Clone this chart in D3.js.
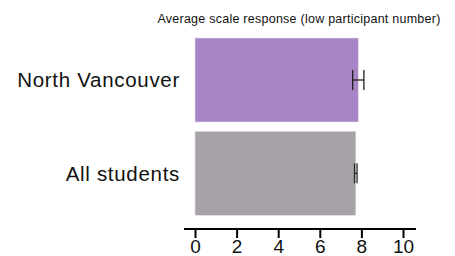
<!DOCTYPE html>
<html>
  <head>
    <meta charset="utf-8" />
    <title>Average scale response</title>
    <script src="https://d3js.org/d3.v7.min.js"></script>
    <style>
      body { margin: 0; background: white; }
      text { font-family: "Liberation Sans", Arial, sans-serif; fill: #111; }
    </style>
  </head>
  <body>
    <svg width="455" height="256" id="chart"></svg>

    <script>
      // chart values
      var categories = ["North Vancouver", "All students"];
      var means = [7.85, 7.73];
      var errors = [0.27, 0.06];
      var colors = ["#a784c6", "#a7a2a7"];
      var ticks = [0, 2, 4, 6, 8, 10];

      var svg = d3.select("#chart");

      // x scale: 0 sits at 195px, 10 at 403px
      var x = d3.scaleLinear().domain([0, 10]).range([195, 403]);
      var y = d3.scaleBand().domain(categories).range([38, 215.3]).paddingInner(0.1).paddingOuter(0);

      svg.append("text")
          .attr("x", 299)
          .attr("y", 23)
          .attr("text-anchor", "middle")
          .style("font-size", "12.5px")
          .style("letter-spacing", "0.25px")
          .text("Average scale response (low participant number)");

      // bars
      svg.selectAll("rect.bar")
          .data(categories)
          .enter().append("rect")
          .attr("class", "bar")
          .attr("x", x(0))
          .attr("y", function(d){ return y(d); })
          .attr("width", function(d, i){ return x(means[i]) - x(0); })
          .attr("height", y.bandwidth())
          .attr("fill", function(d, i){ return colors[i]; })
          .attr("stroke", "#e4dde8")
          .attr("stroke-width", 0.6);

      // error bars
      var eb = svg.selectAll("g.err")
          .data(categories)
          .enter().append("g")
          .attr("class", "err");

      eb.append("line")
          .attr("x1", function(d, i){ return x(means[i] - errors[i]); })
          .attr("x2", function(d, i){ return x(means[i] + errors[i]); })
          .attr("y1", function(d){ return y(d) + y.bandwidth() / 2; })
          .attr("y2", function(d){ return y(d) + y.bandwidth() / 2; })
          .attr("stroke", "#222").attr("stroke-width", 1.3);

      [-1, 1].forEach(function(s){
        eb.append("line")
            .attr("x1", function(d, i){ return x(means[i] + s * errors[i]); })
            .attr("x2", function(d, i){ return x(means[i] + s * errors[i]); })
            .attr("y1", function(d){ return y(d) + y.bandwidth() / 2 - 10; })
            .attr("y2", function(d){ return y(d) + y.bandwidth() / 2 + 10; })
            .attr("stroke", "#222").attr("stroke-width", 1.3);
      });

      // category labels
      svg.selectAll("text.cat")
          .data(categories)
          .enter().append("text")
          .attr("class", "cat")
          .attr("x", 180)
          .attr("y", function(d){ return y(d) + y.bandwidth() / 2 + 7.5; })
          .attr("text-anchor", "end")
          .style("font-size", "20.5px")
          .style("letter-spacing", "0.7px")
          .text(function(d){ return d; });

      // x axis
      var axis = d3.axisBottom(x).tickValues(ticks).tickSize(9).tickPadding(2).tickSizeOuter(0);
      var g = svg.append("g").attr("transform", "translate(0,229)").call(axis);
      g.select(".domain").remove();
      g.append("line")
          .attr("x1", 184).attr("x2", 416)
          .attr("stroke", "#000").attr("stroke-width", 2);
      g.selectAll(".tick line").attr("stroke", "#000").attr("stroke-width", 2);
      g.selectAll(".tick text")
          .style("font-family", "'Liberation Sans', Arial, sans-serif")
          .style("font-size", "19px")
          .attr("fill", "#111");
    </script>
  </body>
</html>
